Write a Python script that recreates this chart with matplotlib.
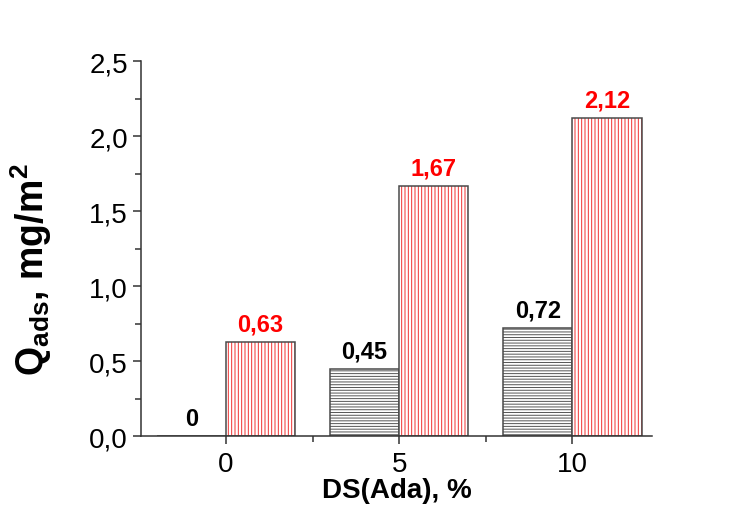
import matplotlib
matplotlib.use("Agg")
import matplotlib.pyplot as plt
from matplotlib.ticker import MultipleLocator, FixedLocator

# =========================================================
# DATA
# =========================================================

DS_VALUES = [0, 5, 10]
Q_BLACK = [0.0, 0.45, 0.72]
Q_RED = [0.63, 1.67, 2.12]
LABELS_BLACK = ["0", "0,45", "0,72"]
LABELS_RED = ["0,63", "1,67", "2,12"]
Y_TICKS = [0.0, 0.5, 1.0, 1.5, 2.0, 2.5]
Y_TICK_LABELS = ["0,0", "0,5", "1,0", "1,5", "2,0", "2,5"]

BAR_WIDTH = 2.0
EDGE = "#4a4a4a"
RED = "#ff0000"

plt.rcParams["font.family"] = ["Liberation Sans", "DejaVu Sans"]
plt.rcParams["mathtext.fontset"] = "custom"
plt.rcParams["mathtext.rm"] = "Liberation Sans:bold"
plt.rcParams["mathtext.bf"] = "Liberation Sans:bold"
plt.rcParams["mathtext.it"] = "Liberation Sans:bold"
plt.rcParams["hatch.linewidth"] = 0.7

fig = plt.figure(figsize=(7.43, 5.10), dpi=100)
ax = fig.add_axes([0.19, 0.143, 0.6875, 0.7354])

# black (horizontal hatch) bars, left of each tick
ax.bar(DS_VALUES, Q_BLACK, width=-BAR_WIDTH, align="edge", color="white",
       edgecolor="#555555", hatch="------", linewidth=0)
ax.bar(DS_VALUES, Q_BLACK, width=-BAR_WIDTH, align="edge", fill=False,
       edgecolor=EDGE, linewidth=1.1)

# red (vertical hatch) bars, right of each tick
ax.bar(DS_VALUES, Q_RED, width=BAR_WIDTH, align="edge", color="white",
       edgecolor="#f03030", hatch="|||||", linewidth=0)
ax.bar(DS_VALUES, Q_RED, width=BAR_WIDTH, align="edge", fill=False,
       edgecolor=EDGE, linewidth=1.1)

for x, q, lab in zip(DS_VALUES, Q_BLACK, LABELS_BLACK):
    ax.annotate(lab, (x - BAR_WIDTH / 2, q), textcoords="offset points",
                xytext=(0, 8), ha="center", va="baseline",
                fontsize=17, fontweight="bold", color="black")
for x, q, lab in zip(DS_VALUES, Q_RED, LABELS_RED):
    ax.annotate(lab, (x + BAR_WIDTH / 2, q), textcoords="offset points",
                xytext=(0, 8), ha="center", va="baseline",
                fontsize=17, fontweight="bold", color=RED)

ax.set_xlim(-2.45, 12.3)
ax.set_ylim(0, 2.5)

ax.set_xticks(DS_VALUES)
ax.set_xticklabels([str(v) for v in DS_VALUES])
ax.xaxis.set_minor_locator(FixedLocator([2.5, 7.5]))
ax.set_yticks(Y_TICKS)
ax.set_yticklabels(Y_TICK_LABELS)
ax.yaxis.set_minor_locator(MultipleLocator(0.25))

ax.tick_params(axis="both", which="major", direction="out", length=6,
               width=1.1, labelsize=20, color="#333333")
ax.tick_params(axis="x", which="major", pad=5)
ax.tick_params(axis="both", which="minor", direction="out", length=4,
               width=1.1, color="#333333")

for side in ["top", "right"]:
    ax.spines[side].set_visible(False)
for side in ["left", "bottom"]:
    ax.spines[side].set_linewidth(1.1)
    ax.spines[side].set_color("#333333")

ax.set_xlabel("DS(Ada), %", fontsize=20, fontweight="bold", labelpad=0)
ax.set_ylabel(r"Q$\mathregular{_{ads}}$, mg/m$\mathregular{^2}$",
              fontsize=27, fontweight="bold")
ax.yaxis.set_label_coords(-0.17, 0.445)

fig.savefig("out.png", dpi=100)
